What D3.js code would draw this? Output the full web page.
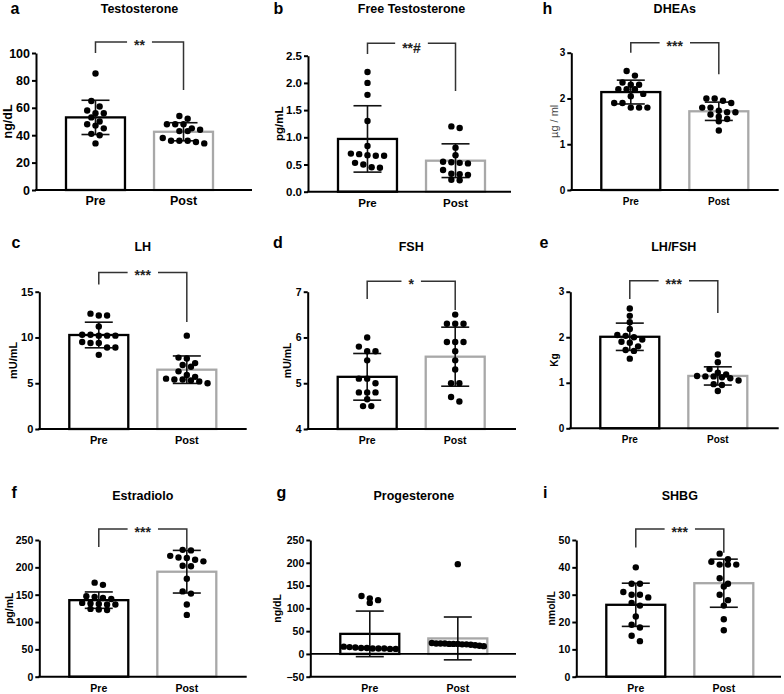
<!DOCTYPE html>
<html>
<head>
<meta charset="utf-8">
<script src="https://cdn.jsdelivr.net/npm/d3@7"></script>
<style>
  html, body { margin: 0; padding: 0; background: #fff; }
  svg { display: block; font-family: "Liberation Sans", Arial, sans-serif; }
</style>
</head>
<body>
<div id="chart"></div>
<script>
// groups on the x axis
const groups = ["Pre", "Post"];

// a - Testosterone (ng/dL)
const testoPre = [85, 65, 61, 58, 56, 56, 53, 50, 48, 47, 45, 41, 40, 34];
const testoPost = [54, 52, 48, 48, 48, 45, 44, 43, 43, 38, 36, 36, 36, 35, 34];
const testoMean = [53, 42.5];
const testoSD = [12.5, 6.6];
const testoTicks = [0, 20, 40, 60, 80, 100];

// b - Free Testosterone (pg/mL)
const freeTPre = [2.2, 2.0, 1.78, 1.3, 0.84, 0.7, 0.69, 0.67, 0.66, 0.66, 0.53, 0.5, 0.45, 0.44];
const freeTPost = [1.2, 1.17, 0.81, 0.67, 0.55, 0.54, 0.53, 0.52, 0.4, 0.33, 0.32, 0.31, 0.22, 0.21];
const freeTMean = [0.97, 0.57];
const freeTSD = [0.61, 0.31];
const freeTTicks = [0, 0.5, 1.0, 1.5, 2.0, 2.5];

// h - DHEAs (µg/ml)
const dheaPre = [2.6, 2.5, 2.35, 2.3, 2.3, 2.2, 2.2, 2.2, 2.1, 2.05, 1.9, 1.9, 1.8, 1.8, 1.8];
const dheaPost = [2.0, 2.0, 1.95, 1.9, 1.8, 1.8, 1.73, 1.7, 1.7, 1.65, 1.6, 1.55, 1.5, 1.3];
const dheaMean = [2.14, 1.72];
const dheaSD = [0.26, 0.2];
const dheaTicks = [0, 1, 2, 3];

// c - LH (mU/mL)
const lhPre = [12.6, 12.4, 12.4, 11.2, 10.3, 10.3, 10.2, 10.2, 10.2, 9.5, 9.4, 9.4, 8.9, 8.9, 8.1];
const lhPost = [10.2, 7.8, 7.7, 7.2, 7.0, 6.8, 6.3, 5.9, 5.7, 5.5, 5.4, 5.4, 5.3, 5.2, 5.0];
const lhMean = [10.27, 6.48];
const lhSD = [1.4, 1.5];
const lhTicks = [0, 5, 10, 15];

// d - FSH (mU/mL)
const fshPre = [6.0, 5.8, 5.7, 5.7, 5.5, 5.1, 5.1, 5.0, 4.8, 4.8, 4.8, 4.65, 4.5, 4.5];
const fshPost = [6.5, 6.3, 6.3, 6.3, 5.9, 5.9, 5.9, 5.7, 5.5, 5.3, 5.0, 5.0, 4.7, 4.6];
const fshMean = [5.14, 5.58];
const fshSD = [0.51, 0.645];
const fshTicks = [4, 5, 6, 7];

// e - LH/FSH (Kg)
const ratioPre = [2.63, 2.47, 2.33, 2.18, 2.05, 2.03, 2.0, 1.95, 1.9, 1.88, 1.8, 1.72, 1.7, 1.53];
const ratioPost = [1.62, 1.45, 1.3, 1.22, 1.18, 1.15, 1.14, 1.14, 1.12, 1.1, 1.05, 0.97, 0.95, 0.82];
const ratioMean = [2.01, 1.15];
const ratioSD = [0.3, 0.2];
const ratioTicks = [0, 1, 2, 3];

// f - Estradiolo (pg/mL)
const e2Pre = [172, 168, 147, 146, 144, 142, 135, 134, 133, 132, 132, 124, 123, 122];
const e2Post = [232, 231, 221, 218, 217, 214, 211, 203, 202, 179, 156, 152, 132, 113];
const e2Mean = [140, 192];
const e2SD = [15, 39];
const e2Ticks = [0, 50, 100, 150, 200, 250];

// g - Progesterone (ng/dL)
const progPre = [127, 122, 118, 112, 16, 15, 14, 13, 13, 12, 12, 12, 11, 11];
const progPost = [197, 24, 23, 23, 23, 22, 22, 22, 21, 21, 20, 19, 18, 17];
const progMean = [44, 34];
const progSD = [50, 47];
const progTicks = [-50, 0, 50, 100, 150, 200, 250];

// i - SHBG (nmol/L)
const shbgPre = [40, 34, 34, 31, 30, 30, 29, 27, 26, 22, 19, 18, 15, 13];
const shbgPost = [45, 43, 42, 41, 41, 41, 36, 34, 33, 30, 28, 26, 21, 17];
const shbgMean = [26.3, 34.2];
const shbgSD = [7.9, 8.8];
const shbgTicks = [0, 10, 20, 30, 40, 50];

// bracket heights in data units: [top, left leg end, right leg end]
const panels = [
  { key: "a", title: "Testosterone", unit: "ng/dL", pre: testoPre, post: testoPost, mean: testoMean, sd: testoSD, domain: [0, 100], ticks: testoTicks, sig: "**", bracket: [108, 100, 73] },
  { key: "b", title: "Free Testosterone", unit: "pg/mL", pre: freeTPre, post: freeTPost, mean: freeTMean, sd: freeTSD, domain: [0, 2.5], ticks: freeTTicks, fmt: ".1f", sig: "**#", bracket: [2.73, 2.53, 1.85] },
  { key: "h", title: "DHEAs", unit: "\u00b5g / ml", pre: dheaPre, post: dheaPost, mean: dheaMean, sd: dheaSD, domain: [0, 3], ticks: dheaTicks, sig: "***", bracket: [3.22, 3.0, 2.53], thinLabel: true },
  { key: "c", title: "LH", unit: "mU/mL", pre: lhPre, post: lhPost, mean: lhMean, sd: lhSD, domain: [0, 15], ticks: lhTicks, sig: "***", bracket: [17.1, 15.8, 11.7] },
  { key: "d", title: "FSH", unit: "mU/mL", pre: fshPre, post: fshPost, mean: fshMean, sd: fshSD, domain: [4, 7], ticks: fshTicks, sig: "*", bracket: [7.23, 6.84, 6.6] },
  { key: "e", title: "LH/FSH", unit: "Kg", pre: ratioPre, post: ratioPost, mean: ratioMean, sd: ratioSD, domain: [0, 3], ticks: ratioTicks, sig: "***", bracket: [3.24, 2.84, 2.53] },
  { key: "f", title: "Estradiolo", unit: "pg/mL", pre: e2Pre, post: e2Post, mean: e2Mean, sd: e2SD, domain: [0, 250], ticks: e2Ticks, sig: "***", bracket: [270, 237, 232] },
  { key: "g", title: "Progesterone", unit: "ng/dL", pre: progPre, post: progPost, mean: progMean, sd: progSD, domain: [-50, 250], ticks: progTicks, sig: null, bracket: null },
  { key: "i", title: "SHBG", unit: "nmol/L", pre: shbgPre, post: shbgPost, mean: shbgMean, sd: shbgSD, domain: [0, 50], ticks: shbgTicks, sig: "***", bracket: [54, 47.3, 45.3] }
];

// where each panel sits on the page
const layout = {
  a: { x0: 36,    x1: 252,   top: 53,    bot: 190,   fs: 12.5, labOff: 28.5, lx: 10.5,  ly: 14,  ty: 13 },
  b: { x0: 308,   x1: 511,   top: 55.7,  bot: 191.7, fs: 11.5, labOff: 29,   lx: 273.5, ly: 14,  ty: 13 },
  h: { x0: 571.3, x1: 778.7, top: 52.7,  bot: 190,   fs: 10,   labOff: 17.5, lx: 542.5, ly: 14,  ty: 13 },
  c: { x0: 39.3,  x1: 246.7, top: 291.7, bot: 429,   fs: 11,   labOff: 26,   lx: 11.5,  ly: 248, ty: 251 },
  d: { x0: 307.7, x1: 516,   top: 291.7, bot: 429,   fs: 10.5, labOff: 20,   lx: 273,   ly: 248, ty: 251 },
  e: { x0: 570.3, x1: 778.7, top: 291.7, bot: 428.3, fs: 10,   labOff: 16,   lx: 539.5, ly: 248, ty: 251 },
  f: { x0: 39.3,  x1: 246.7, top: 540,   bot: 676.7, fs: 10.5, labOff: 30,   lx: 11.5,  ly: 498, ty: 499.5 },
  g: { x0: 310.3, x1: 516,   top: 540,   bot: 676.7, fs: 10.5, labOff: 32.5, lx: 276.5, ly: 498, ty: 499.5 },
  i: { x0: 576.3, x1: 781,   top: 540,   bot: 676.7, fs: 10.5, labOff: 24.5, lx: 543,   ly: 498, ty: 499.5 }
};

const W = 784, H = 694;
const dotR = 3.2, dotStep = 8.3, rowTol = 5.5, halfMax = 26;
const strokeCol = ["#000", "#a8a8a8"];

const svg = d3.select("#chart").append("svg")
  .attr("width", W).attr("height", H)
  .attr("viewBox", `0 0 ${W} ${H}`);

// Prism-like scatter: points close in y share a row, spread around the bar centre
function swarm(values, y, cx) {
  const pts = values.map(v => ({ v, py: y(v) })).sort((a, b) => a.py - b.py);
  const rows = [];
  pts.forEach(p => {
    const last = rows[rows.length - 1];
    if (last && p.py - last[0].py < rowTol) last.push(p);
    else rows.push([p]);
  });
  rows.forEach(row => {
    const n = row.length;
    const step = n > 1 ? Math.min(dotStep, 2 * halfMax / (n - 1)) : 0;
    row.forEach((p, i) => { p.px = cx + (i - (n - 1) / 2) * step; });
  });
  return pts;
}

panels.forEach(p => {
  const L = layout[p.key];
  const g = svg.append("g").attr("class", "panel-" + p.key);

  const y = d3.scaleLinear().domain(p.domain).range([L.bot, L.top]);
  const x = d3.scaleBand().domain(groups).range([L.x0 + 30, L.x0 + 177]).paddingInner(0.33);
  const bw = x.bandwidth();
  const cx = gname => x(gname) + bw / 2;
  const base = y(Math.max(0, p.domain[0]));

  // panel letter + title
  g.append("text").attr("x", L.lx).attr("y", L.ly)
    .attr("font-size", 16).attr("font-weight", "bold").text(p.key);
  g.append("text").attr("x", (cx("Pre") + cx("Post")) / 2).attr("y", L.ty)
    .attr("text-anchor", "middle").attr("font-size", 12.5).attr("font-weight", "bold")
    .text(p.title);

  // bars
  g.selectAll("rect.bar").data(groups).join("rect")
    .attr("class", "bar")
    .attr("x", d => x(d))
    .attr("width", bw)
    .attr("y", (d, i) => Math.min(y(p.mean[i]), base))
    .attr("height", (d, i) => Math.abs(base - y(p.mean[i])))
    .attr("fill", "#fff")
    .attr("stroke", (d, i) => strokeCol[i])
    .attr("stroke-width", 2.3);

  // error bars (mean ± SD)
  groups.forEach((gname, i) => {
    const c = cx(gname);
    const hi = y(p.mean[i] + p.sd[i]), lo = y(p.mean[i] - p.sd[i]);
    const eb = g.append("g").attr("stroke", "#111").attr("stroke-width", 1.6);
    eb.append("line").attr("x1", c).attr("x2", c).attr("y1", hi).attr("y2", lo);
    eb.append("line").attr("x1", c - 14).attr("x2", c + 14).attr("y1", hi).attr("y2", hi);
    eb.append("line").attr("x1", c - 14).attr("x2", c + 14).attr("y1", lo).attr("y2", lo);
  });

  // individual points
  [p.pre, p.post].forEach((vals, i) => {
    g.append("g").selectAll("circle")
      .data(swarm(vals, y, cx(groups[i])))
      .join("circle")
      .attr("cx", d => d.px).attr("cy", d => d.py).attr("r", dotR)
      .attr("fill", "#000");
  });

  // y axis
  const yAxis = d3.axisLeft(y).tickValues(p.ticks).tickSize(4).tickSizeOuter(0).tickPadding(2)
    .tickFormat(d3.format(p.fmt || "~g"));
  const ya = g.append("g").attr("transform", `translate(${L.x0},0)`).call(yAxis);
  ya.select(".domain").attr("stroke", "#000").attr("stroke-width", 2);
  ya.selectAll(".tick line").attr("stroke", "#000").attr("stroke-width", 2);
  ya.selectAll("text").attr("font-size", L.fs).attr("font-weight", "bold")
    .attr("font-family", "Liberation Sans, Arial, sans-serif").attr("fill", "#000");

  // x axis line (and zero line where the scale goes negative)
  g.append("line").attr("x1", L.x0 - 1).attr("x2", L.x1).attr("y1", L.bot).attr("y2", L.bot)
    .attr("stroke", "#000").attr("stroke-width", 2);
  if (p.domain[0] < 0) {
    g.append("line").attr("x1", L.x0).attr("x2", L.x1).attr("y1", y(0)).attr("y2", y(0))
      .attr("stroke", "#000").attr("stroke-width", 1.6);
  }
  const xa = g.append("g").attr("transform", `translate(0,${L.bot})`)
    .call(d3.axisBottom(x).tickSize(0).tickPadding(15 - 0.71 * L.fs));
  xa.select(".domain").remove();
  xa.selectAll("text").attr("font-size", L.fs).attr("font-weight", "bold")
    .attr("font-family", "Liberation Sans, Arial, sans-serif").attr("fill", "#000");

  // y axis title
  g.append("text")
    .attr("transform", `translate(${L.x0 - L.labOff},${(L.top + L.bot) / 2}) rotate(-90)`)
    .attr("text-anchor", "middle").attr("dy", "0.35em")
    .attr("font-size", p.thinLabel ? 11 : L.fs)
    .attr("font-weight", p.thinLabel ? "normal" : "bold")
    .attr("fill", p.thinLabel ? "#444" : "#000")
    .text(p.unit);

  // significance bracket
  if (p.bracket) {
    const [bTop, bLeft, bRight] = p.bracket;
    const xl = cx("Pre"), xr = cx("Post"), yt = y(bTop), mid = (xl + xr) / 2;
    const label = g.append("text").attr("x", mid).attr("y", yt + (p.sig.includes("#") ? 9.5 : 8))
      .attr("text-anchor", "middle").attr("font-size", 14).attr("font-weight", "bold")
      .attr("fill", "#222").text(p.sig);
    const half = label.node().getComputedTextLength() / 2 + 7;
    const br = g.append("g").attr("fill", "none").attr("stroke", "#333").attr("stroke-width", 1.5);
    br.append("path").attr("d", `M${xl},${y(bLeft)}V${yt}H${mid - half}`);
    br.append("path").attr("d", `M${mid + half},${yt}H${xr}V${y(bRight)}`);
  }
});
</script>
</body>
</html>
